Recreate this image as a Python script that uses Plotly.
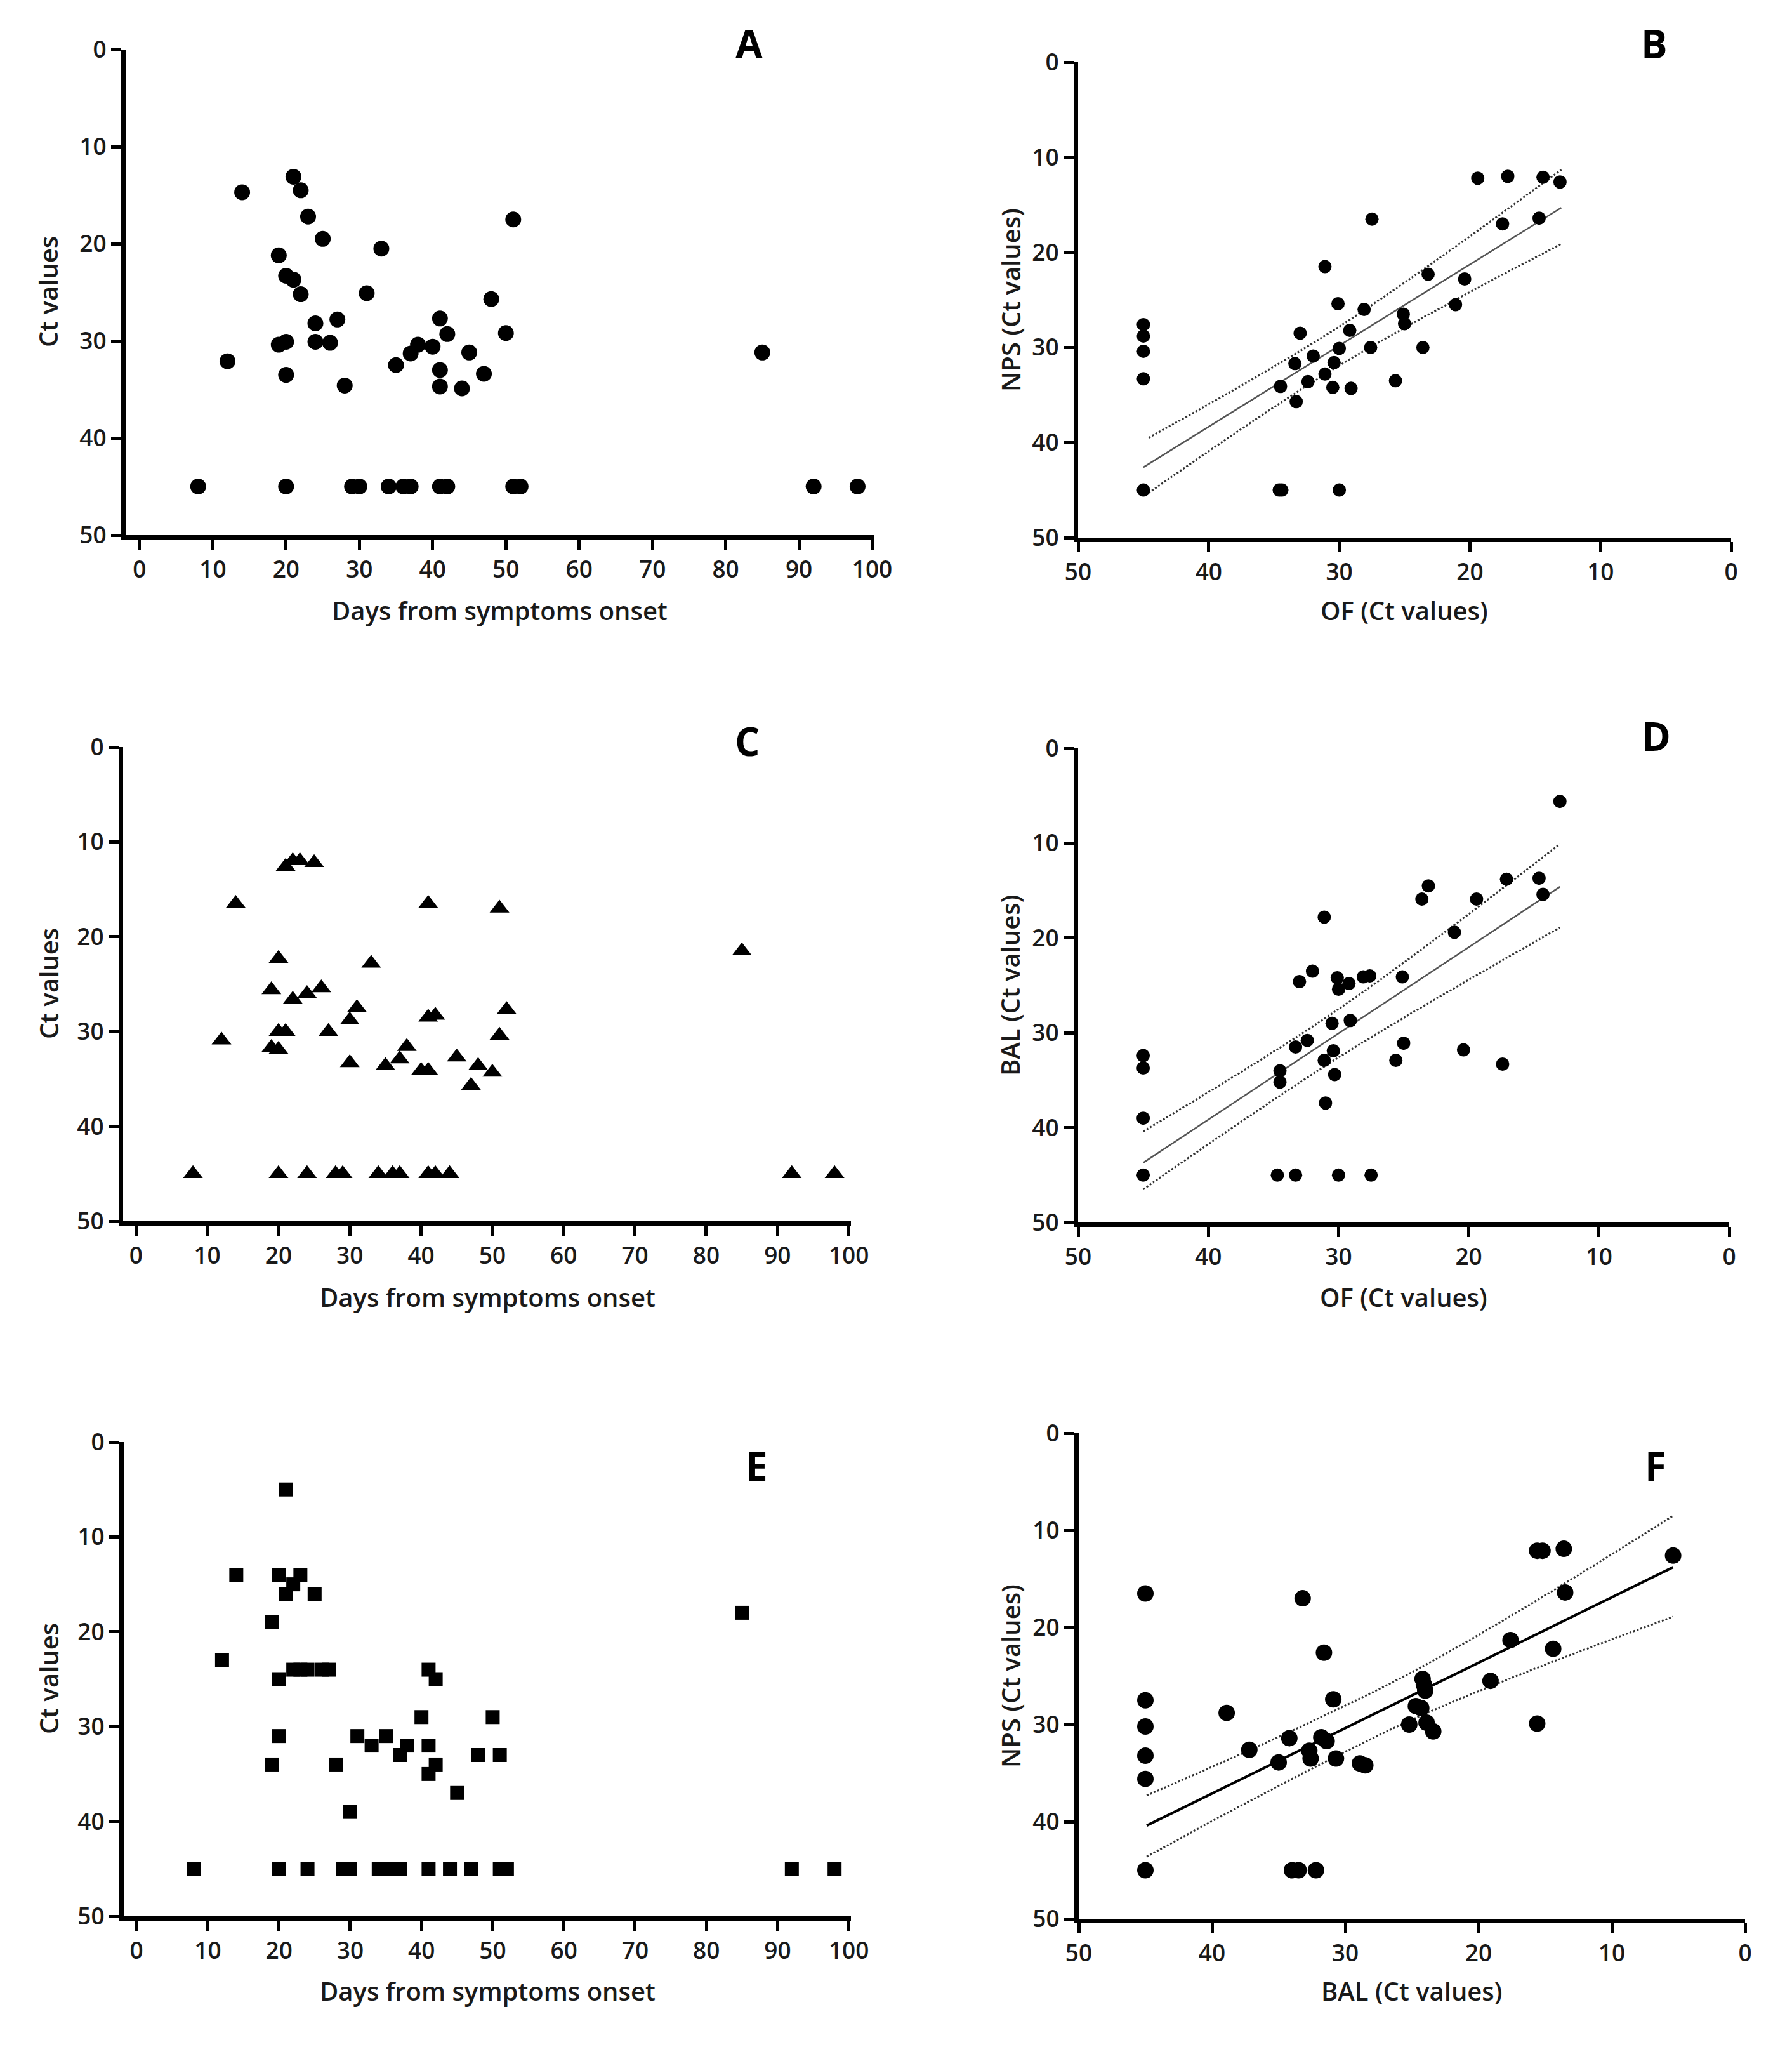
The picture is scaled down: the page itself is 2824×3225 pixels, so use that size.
import plotly.graph_objects as go

# ----------------------------------------------------------------------------
# Data
# ----------------------------------------------------------------------------

# A - OF Ct values vs days from symptoms onset
days_a = [8, 12, 14, 19, 19, 20, 20, 20, 20, 21, 21, 22, 22, 23, 24, 24, 25, 26, 27, 28,
          29, 30, 31, 33, 34, 35, 36, 37, 37, 38, 40, 41, 41, 41, 41, 42, 42, 44, 45, 47,
          48, 50, 51, 51, 52, 85, 92, 98]
ct_a = [45, 32.1, 14.7, 21.2, 30.4, 23.3, 30.1, 33.5, 45, 23.7, 13.1, 14.5, 25.2, 17.2, 28.2, 30.1,
        19.5, 30.2, 27.8, 34.6, 45, 45, 25.1, 20.5, 45, 32.5, 45, 45, 31.3, 30.4, 30.6, 27.7,
        33.0, 34.7, 45, 29.3, 45, 34.9, 31.2, 33.4, 25.7, 29.2, 17.5, 45, 45, 31.2, 45, 45]

# C - second specimen vs days
days_c = [8, 12, 14, 19, 19, 20, 20, 20, 20, 21, 21, 22, 22, 23, 24, 24, 25, 26, 27, 28,
          29, 30, 30, 31, 33, 34, 35, 36, 37, 37, 38, 40, 41, 41, 41, 41, 42, 42, 44, 45,
          47, 48, 50, 51, 51, 52, 85, 92, 98]
ct_c = [45, 30.9, 16.5, 25.6, 31.7, 22.3, 30, 31.9, 45, 12.6, 30, 12.0, 26.6, 12.0, 26, 45,
        12.2, 25.4, 30, 45, 45, 28.8, 33.3, 27.5, 22.8, 45, 33.6, 45, 32.9, 45, 31.6, 34.1,
        34.1, 16.5, 28.5, 45, 28.3, 45, 45, 32.7, 35.7, 33.6, 34.3, 17, 30.4, 27.7, 21.5, 45, 45]

# E - third specimen vs days
days_e = [8, 12, 14, 19, 19, 20, 20, 20, 20, 21, 21, 22, 22, 23, 23, 24, 24, 25, 26, 27,
          28, 29, 30, 30, 31, 33, 34, 35, 35, 36, 37, 37, 38, 40, 41, 41, 41, 41, 42, 42,
          44, 45, 47, 48, 50, 51, 51, 52, 85, 92, 98]
ct_e = [45, 23, 14, 19, 34, 14, 25, 31, 45, 5, 16, 15, 24, 14, 24, 24, 45, 16, 24, 24,
        34, 45, 39, 45, 31, 32, 45, 31, 45, 45, 33, 45, 32, 29, 24, 32, 35, 45, 25, 34,
        45, 37, 45, 33, 29, 33, 45, 45, 18, 45, 45]

# B - NPS vs OF
of_b = [45, 45, 45, 45, 45, 34.6, 34.4, 30, 34.5, 33.3, 33.4, 33, 32.4, 32, 31.1, 31.1, 30.5,
        30.4, 30, 30.1, 29.2, 29.1, 28.1, 27.6, 27.5, 25.7, 25.1, 25, 23.6, 23.2, 21.1, 20.4,
        19.4, 17.5, 17.1, 14.7, 14.4, 13.1]
nps_b = [27.6, 28.8, 30.4, 33.3, 45, 45, 45, 45, 34.1, 35.7, 31.7, 28.5, 33.6, 30.9, 32.8, 21.5,
         34.2, 31.6, 30.1, 25.4, 28.2, 34.3, 26, 30, 16.5, 33.5, 26.5, 27.5, 30, 22.3, 25.5, 22.8,
         12.2, 17, 12, 16.4, 12.1, 12.6]
fit_x_b = [45, 13]
fit_y_b = [42.6, 15.3]
ci_x_b = [44.6, 30, 13]
ci_hi_b = [39.5, 27.8, 11.3]
ci_lo_b = [45.3, 31.9, 19.1]

# D - BAL vs OF
of_d = [45, 45, 45, 45, 34.7, 33.3, 30, 27.5, 34.5, 34.5, 33.3, 33, 32.4, 32, 31.1, 31.1, 31,
        30.5, 30.4, 30.3, 30.1, 30, 29.2, 29.1, 28.1, 27.6, 25.6, 25.1, 25, 23.6, 23.1, 21.1,
        20.4, 19.4, 17.4, 17.1, 14.6, 14.3, 13]
bal_d = [32.4, 33.7, 39, 45, 45, 45, 45, 45, 34, 35.2, 31.5, 24.6, 30.8, 23.5, 32.9, 17.8, 37.4,
         29, 31.9, 34.4, 24.2, 25.4, 24.8, 28.7, 24.1, 24, 32.9, 24.1, 31.1, 15.9, 14.5, 19.4,
         31.8, 15.9, 33.3, 13.8, 13.7, 15.4, 5.6]
fit_x_d = [45, 13]
fit_y_d = [43.7, 14.6]
ci_x_d = [45, 30, 13]
ci_hi_d = [40.4, 27.5, 10.1]
ci_lo_d = [46.5, 32.6, 18.9]

# F - NPS vs BAL
bal_f = [45, 45, 45, 45, 45, 45, 38.9, 37.2, 35, 34.2, 34, 33.5, 33.2, 32.7, 32.6, 32.2, 31.6,
         31.8, 31.4, 30.9, 30.7, 28.9, 28.5, 25.2, 24.7, 24.3, 24.2, 24.1, 24, 23.9, 23.4, 19.1,
         17.6, 15.6, 15.6, 15.2, 14.4, 13.6, 13.5, 5.4]
nps_f = [16.5, 27.5, 30.2, 33.2, 35.6, 45, 28.8, 32.6, 33.9, 31.4, 45, 45, 17, 32.7, 33.5, 45,
         22.6, 31.3, 31.7, 27.4, 33.5, 34, 34.2, 30, 28.1, 28.3, 25.3, 25.9, 26.5, 29.8, 30.7,
         25.5, 21.3, 29.9, 12.1, 12.1, 22.2, 11.9, 16.4, 12.6]
fit_x_f = [44.9, 5.4]
fit_y_f = [40.4, 13.8]
ci_x_f = [44.9, 25, 5.4]
ci_hi_f = [37.3, 24.6, 8.5]
ci_lo_f = [43.6, 29.5, 18.9]

day_ticks = list(range(0, 101, 10))
ct_ticks = list(range(0, 51, 10))

# ----------------------------------------------------------------------------
# Layout helpers (pixel positions measured on the 2824 x 3225 page)
# ----------------------------------------------------------------------------
W, H = 2824, 3225
FONT = "Open Sans"


def px(x):
    return x / W


def py(y):
    return 1 - y / H


def axis_style(**kw):
    base = dict(
        showline=True, linewidth=7, linecolor="black",
        ticks="outside", ticklen=16, tickwidth=5, tickcolor="black",
        showgrid=False, zeroline=False, automargin=False,
        tickfont=dict(family=FONT, size=37, color="#1a1a1a", weight=600),
    )
    base.update(kw)
    return base


fig = go.Figure()

# panel: (x-axis left px, right px, y top px, bottom px, xrange)
panels = {
    "A": (198, 1378, 78, 843, [-1.9, 100.3]),
    "B": (1699, 2728, 98, 847, [50, 0]),
    "C": (194, 1341, 1177, 1924, [-1.8, 100.3]),
    "D": (1699, 2725, 1179, 1926, [50, 0]),
    "E": (195, 1341, 2272, 3019, [-1.8, 100.3]),
    "F": (1700, 2750, 2258, 3023, [50, 0]),
}

layout = {}
for i, (name, (x0, x1, y0, y1, xr)) in enumerate(panels.items(), start=1):
    sfx = "" if i == 1 else str(i)
    tickvals = day_ticks if xr[0] < 0 else ct_ticks
    layout["xaxis" + sfx] = axis_style(domain=[px(x0), px(x1)], range=xr,
                                       tickvals=tickvals, anchor="y" + sfx)
    layout["yaxis" + sfx] = axis_style(domain=[py(y1), py(y0)], range=[50, 0],
                                       tickvals=ct_ticks, anchor="x" + sfx)
fig.update_layout(**layout)

axes = {name: ("x" if i == 1 else f"x{i}", "y" if i == 1 else f"y{i}")
        for i, name in enumerate(panels, start=1)}


def add_points(panel, xs, ys, symbol, size):
    xa, ya = axes[panel]
    fig.add_trace(go.Scatter(x=xs, y=ys, mode="markers", xaxis=xa, yaxis=ya,
                             marker=dict(symbol=symbol, size=size, color="black"),
                             hoverinfo="x+y"))


def add_fit(panel, fx, fy, cx, chi, clo, width, color):
    xa, ya = axes[panel]
    fig.add_trace(go.Scatter(x=fx, y=fy, mode="lines", xaxis=xa, yaxis=ya,
                             line=dict(color=color, width=width), hoverinfo="none"))
    for band in (chi, clo):
        fig.add_trace(go.Scatter(x=cx, y=band, mode="lines", xaxis=xa, yaxis=ya,
                                 line=dict(color="#333", width=3, dash="dot", shape="spline"),
                                 hoverinfo="none"))


add_points("A", days_a, ct_a, "circle", 25)
add_points("C", days_c, ct_c, "triangle-up", 27)
add_points("E", days_e, ct_e, "square", 22)

add_fit("B", fit_x_b, fit_y_b, ci_x_b, ci_hi_b, ci_lo_b, 2.5, "#555")
add_points("B", of_b, nps_b, "circle", 21)
add_fit("D", fit_x_d, fit_y_d, ci_x_d, ci_hi_d, ci_lo_d, 2.5, "#555")
add_points("D", of_d, bal_d, "circle", 21)
add_fit("F", fit_x_f, fit_y_f, ci_x_f, ci_hi_f, ci_lo_f, 4, "black")
add_points("F", bal_f, nps_f, "circle", 26)

# ----------------------------------------------------------------------------
# Text: axis titles and panel letters
# ----------------------------------------------------------------------------
title_font = dict(family=FONT, size=40, color="#1a1a1a", weight=600)
letter_font = dict(family=FONT, size=62, color="black", weight=700)

x_titles = [
    ("Days from symptoms onset", 787, 962), ("OF (Ct values)", 2213, 962),
    ("Days from symptoms onset", 768, 2043), ("OF (Ct values)", 2212, 2043),
    ("Days from symptoms onset", 768, 3136), ("BAL (Ct values)", 2225, 3136),
]
y_titles = [
    ("Ct values", 76, 460), ("NPS (Ct values)", 1592, 472),
    ("Ct values", 76, 1550), ("BAL (Ct values)", 1592, 1552),
    ("Ct values", 76, 2645), ("NPS (Ct values)", 1592, 2640),
]
letters = [("A", 1180, 68), ("B", 2607, 68), ("C", 1178, 1167),
           ("D", 2610, 1159), ("E", 1192, 2309), ("F", 2609, 2309)]

annotations = []
for text, x, y in x_titles:
    annotations.append(dict(text=text, x=px(x), y=py(y), xref="paper", yref="paper",
                            xanchor="center", yanchor="middle",
                            showarrow=False, font=title_font))
for text, x, y in y_titles:
    annotations.append(dict(text=text, x=px(x), y=py(y), xref="paper", yref="paper",
                            xanchor="center", yanchor="middle",
                            showarrow=False, font=title_font, textangle=-90))
for text, x, y in letters:
    annotations.append(dict(text=text, x=px(x), y=py(y), xref="paper", yref="paper",
                            xanchor="center", yanchor="middle",
                            showarrow=False, font=letter_font))

fig.update_layout(
    width=W, height=H, autosize=False,
    margin=dict(l=0, r=0, t=0, b=0),
    paper_bgcolor="white", plot_bgcolor="white",
    showlegend=False,
    annotations=annotations,
)

fig.write_html("out.html", config={"displayModeBar": False},
               post_script="document.body.style.margin='0';")
